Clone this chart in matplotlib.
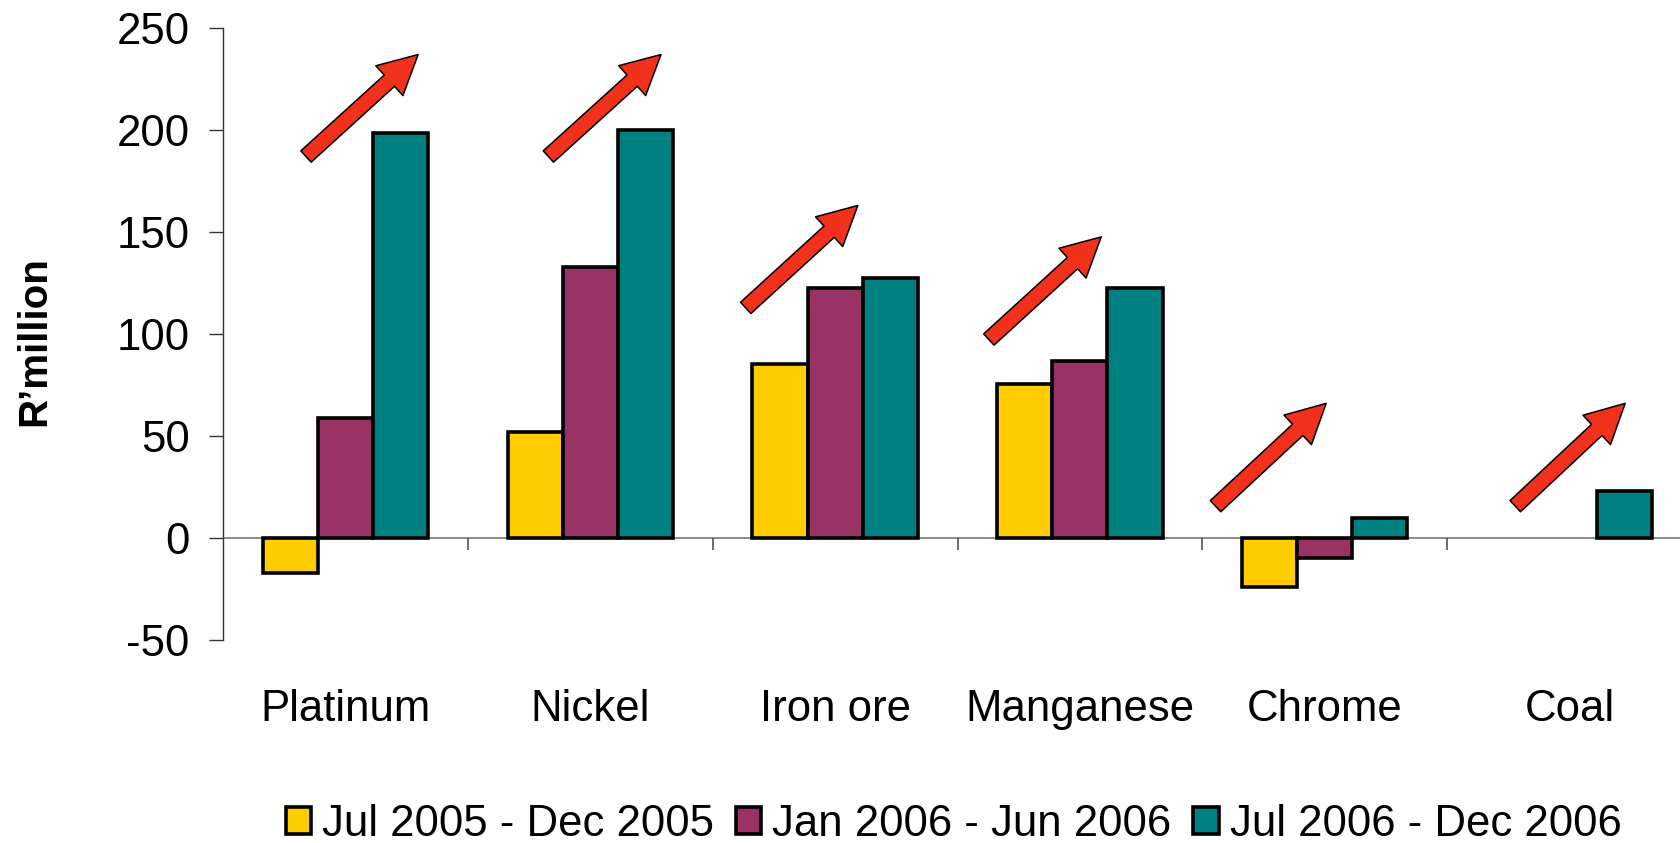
import numpy as np
import matplotlib
matplotlib.use('Agg')
from matplotlib import pyplot as plt

plt.rcParams['font.family'] = ['Liberation Sans', 'DejaVu Sans']

categories = ['Platinum', 'Nickel', 'Iron ore', 'Manganese', 'Chrome', 'Coal']
series_names = ['Jul 2005 - Dec 2005', 'Jan 2006 - Jun 2006', 'Jul 2006 - Dec 2006']
jul05 = [-17, 52, 85.5, 75.5, -24, np.nan]
jan06 = [59, 133, 122.5, 87, -10, np.nan]
jul06 = [198.5, 200, 127.5, 122.5, 10, 23]
colors = ['#FFCC00', '#993366', '#008080']
yticks = [-50, 0, 50, 100, 150, 200, 250]

# arrows: (x offset of tail, x offset of tip) from category centre, (y tail, y tip) in R'million
arrow_dx = [(-0.161, 0.297), (-0.171, 0.289), (-0.365, 0.093), (-0.372, 0.087), (-0.446, 0.006), (-0.222, 0.227)]
arrow_y = [(187, 237), (187, 237), (112.8, 163), (97.3, 147.6), (15.6, 66), (15.6, 66)]

fig = plt.figure(figsize=(16.8, 8.43), dpi=100)
ax = fig.add_axes([223/1680, 1-640/843, 1469/1680, 612/843])

x = np.arange(len(categories)) + 0.5
w = 0.225
for k, vals in enumerate([jul05, jan06, jul06]):
    ax.bar(x + (k-1)*w, vals, w, color=colors[k], edgecolor='black', linewidth=2.6,
           label=series_names[k], zorder=3)

ax.axhline(0, color='#777777', lw=1.2, zorder=2)
bounds = np.arange(1, len(categories))
ax.vlines(bounds, -6, 0, color='#555555', lw=1.2, zorder=2)

for i in range(len(categories)):
    (a, b), (y0, y1) = arrow_dx[i], arrow_y[i]
    ax.annotate('', xy=(x[i]+b, y1), xytext=(x[i]+a, y0),
                arrowprops=dict(arrowstyle='simple,head_length=1.4,head_width=1.45,tail_width=0.55',
                                mutation_scale=20, fc='#F2311C', ec='black', lw=1.1,
                                shrinkA=0, shrinkB=0), zorder=4)

ax.set_xlim(0, len(categories))
ax.set_ylim(-50, 250)
ax.set_yticks(yticks)
ax.set_yticklabels([str(t) for t in yticks], fontsize=31.5)
ax.tick_params(axis='y', length=10, width=1.0, color='#333333', pad=14)
ax.set_xticks(x)
ax.set_xticklabels(categories, fontsize=31.5)
ax.tick_params(axis='x', length=0, pad=35)

for s in ['top', 'right', 'bottom']:
    ax.spines[s].set_visible(False)
ax.spines['left'].set_linewidth(1.0)
ax.spines['left'].set_color('#333333')

fig.text(34/1680, 0.595, 'R\u2019million', rotation=90, fontsize=29, fontweight='bold',
         ha='center', va='center')

fig.legend(loc='center', bbox_to_anchor=(0.5676, 0.022), ncol=3, frameon=False,
           fontsize=31.5, handlelength=0.58, handleheight=0.58, handletextpad=0.25,
           columnspacing=0.5, borderpad=0)

fig.savefig('out.png', dpi=100)
